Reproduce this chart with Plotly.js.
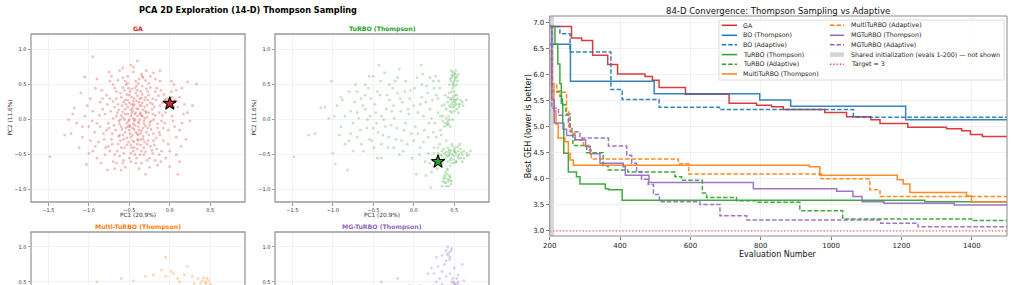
<!DOCTYPE html>
<html><head><meta charset="utf-8">
<script src="https://cdn.plot.ly/plotly-3.0.1.min.js"></script>
<style>html,body{margin:0;padding:0;background:#fff}#plot{width:1014px;height:285px}</style>
</head><body><div id="plot"></div>
<script>
// ---------- DATA ----------
const mainTitle = "PCA 2D Exploration (14-D) Thompson Sampling";
const panelTitles = ["GA", "TuRBO (Thompson)", "Multi-TuRBO (Thompson)", "MG-TuRBO (Thompson)"];
const pcXLabel = "PC1 (20.9%)";
const pcYLabel = "PC2 (11.6%)";

const gaPts = [
[-0.45,0.02],[-0.38,-0.05],[-0.52,0.08],[-0.30,0.12],[-0.60,-0.10],[-0.42,-0.18],[-0.35,0.20],[-0.55,0.15],[-0.25,-0.08],[-0.48,-0.25],
[-0.40,0.05],[-0.33,-0.12],[-0.58,0.03],[-0.47,0.22],[-0.28,0.04],[-0.65,0.10],[-0.50,-0.15],[-0.36,-0.28],[-0.44,0.30],[-0.22,0.15],
[-0.62,-0.22],[-0.31,0.28],[-0.53,-0.05],[-0.40,-0.35],[-0.70,0.02],[-0.20,-0.20],[-0.46,0.12],[-0.37,0.08],[-0.57,0.25],[-0.27,-0.30],
[-0.68,0.18],[-0.43,-0.08],[-0.34,0.36],[-0.51,-0.32],[-0.18,0.06],[-0.75,-0.12],[-0.39,-0.22],[-0.60,0.32],[-0.24,0.24],[-0.49,0.40],
[-0.15,-0.12],[-0.72,-0.28],[-0.32,-0.40],[-0.56,-0.40],[-0.12,0.20],[-0.80,0.08],[-0.45,-0.45],[-0.29,0.44],[-0.64,-0.35],[-0.10,-0.02],
[-0.82,-0.20],[-0.41,0.48],[-0.19,-0.36],[-0.66,0.40],[-0.05,0.10],[-0.86,0.25],[-0.37,-0.50],[-0.54,0.50],[-0.14,0.34],[-0.74,-0.45],
[-0.02,-0.15],[-0.90,-0.05],[-0.26,0.52],[-0.50,-0.55],[-0.08,-0.30],[-0.78,0.35],[-0.33,0.60],[-0.62,-0.52],[0.03,0.05],[-0.95,0.12],
[-0.16,0.45],[-0.70,0.50],[-0.42,-0.62],[-0.04,0.30],[-0.88,-0.32],[-0.21,-0.48],[0.06,-0.10],[-0.58,0.60],[-0.10,-0.45],[-1.00,-0.10],
[-0.35,0.65],[-0.80,-0.50],[0.02,0.40],[-0.28,-0.58],[-0.98,0.30],[0.10,0.18],[-0.66,-0.62],[-0.12,0.55],[-0.45,0.68],[0.08,-0.25],
[-1.05,0.05],[-0.24,0.62],[-0.55,-0.68],[0.12,0.32],[-0.92,0.45],[-0.05,-0.55],[-0.72,0.62],[0.15,-0.05],[-1.08,-0.25],[-0.38,-0.70],
[-1.48,-0.53],[-1.30,-0.22],[-1.22,-0.20],[-1.18,0.17],[-0.95,0.90],[-0.40,0.84],[0.33,0.51],[0.22,0.54],[-1.05,0.61],[-0.77,-0.72],
[-1.03,-0.64],[0.10,-0.78],[0.08,-0.50],[0.00,-0.67],[0.25,-0.02],[0.20,-0.28],[-1.12,-0.40],[-1.00,-0.48],[-0.20,0.67],[0.18,0.22],
[-0.85,-0.62],[-0.60,-0.72],[0.05,0.50],[-1.10,0.38],[-0.90,0.58],[-1.25,0.00],[0.14,-0.38],[-0.62,0.70],[-0.15,-0.65],[-0.30,-0.78],
[-0.44,-0.02],[-0.36,0.10],[-0.50,-0.08],[-0.41,0.16],[-0.32,-0.02],[-0.55,-0.18],[-0.46,-0.12],[-0.38,0.25],[-0.29,-0.18],[-0.60,0.06],
[-0.43,0.08],[-0.35,-0.16],[-0.52,0.18],[-0.40,-0.28],[-0.26,0.10],[-0.63,-0.02],[-0.47,0.32],[-0.33,-0.24],[-0.57,-0.28],[-0.23,-0.02],
[-0.48,0.05],[-0.39,-0.10],[-0.45,0.20],[-0.31,0.18],[-0.54,-0.12],[-0.42,0.38],[-0.36,-0.36],[-0.67,-0.15],[-0.21,0.30],[-0.59,0.20],
[-0.49,-0.20],[-0.27,-0.12],[-0.52,0.28],[-0.37,0.00],[-0.44,-0.40],[-0.70,0.26],[-0.17,-0.26],[-0.63,0.14],[-0.30,0.32],[-0.48,0.14],
[-0.34,0.05],[-0.58,-0.22],[-0.40,0.42],[-0.24,-0.38],[-0.76,-0.05],[-0.45,0.26],[-0.13,0.10],[-0.53,0.36],[-0.65,-0.45],[-0.31,-0.32],
[-0.56,0.00],[-0.39,0.15],[-0.46,-0.30],[-0.20,0.00],[-0.71,-0.35],[-0.34,0.48],[-0.27,0.40],[-0.61,-0.30],[-0.41,-0.55],[-0.83,0.15],
[-0.18,0.40],[-0.51,0.45],[-0.09,0.24],[-0.77,0.22],[-0.35,-0.45],[-0.55,0.55],[-0.13,-0.18],[-0.68,0.45],[-0.25,-0.55],[-0.86,-0.10],
[-0.06,-0.05],[-0.42,0.55],[-0.57,-0.48],[-0.93,-0.18],[-0.11,0.42],[-0.30,0.56],[-0.79,-0.40],[-0.02,0.22],[-0.48,-0.48],[-0.16,-0.42],
[-0.47,0.09],[-0.39,-0.03],[-0.33,0.14],[-0.51,-0.02],[-0.44,-0.14],[-0.58,0.11],[-0.36,-0.20],[-0.28,0.21],[-0.62,-0.06],[-0.41,0.27],
[-0.30,-0.09],[-0.54,0.22],[-0.46,-0.22],[-0.35,0.31],[-0.66,0.05],[-0.23,-0.14],[-0.50,0.35],[-0.40,-0.42],[-0.19,0.18],[-0.71,-0.20],
[-0.53,-0.36],[-0.26,0.35],[-0.61,0.38],[-0.32,-0.50],[-0.15,-0.06],[-0.74,0.30],[-0.43,0.45],[-0.57,-0.58],[-0.09,0.06],[-0.81,-0.28],
[-0.22,-0.44],[-0.38,0.58],[-0.68,-0.50],[-0.07,0.36],[-0.87,0.06],[-0.48,-0.60],[-0.13,-0.50],[-0.64,0.56],[-0.02,-0.35],[-0.92,-0.38],
[-0.29,0.70],[-0.52,0.62],[0.04,-0.02],[-0.96,-0.02],[-0.18,0.58],[-0.74,0.55],[0.07,0.28],[-0.35,-0.62],[-0.84,0.42],[-0.11,-0.60],
[0.12,-0.15],[-1.02,0.20],[-0.45,0.75],[-0.70,-0.60],[0.02,0.55],[-0.58,0.74],[-0.25,-0.68],[0.17,0.08],[-1.08,-0.10],[-0.90,-0.55],
[-0.37,0.20],[-0.45,-0.06],[-0.31,0.02],[-0.55,0.08],[-0.42,0.10],[-0.49,-0.10],[-0.38,-0.15],[-0.34,0.24],[-0.59,-0.14],[-0.26,-0.22],
[-0.50,0.24],[-0.44,-0.32],[-0.36,0.40],[-0.64,0.22],[-0.21,0.08],[-0.53,-0.26],[-0.40,0.34],[-0.69,-0.08],[-0.28,-0.35],[-0.47,0.44],
[-0.33,-0.28],[-0.56,0.42],[-0.17,0.28],[-0.73,0.12],[-0.43,-0.50],[-0.24,0.46],[-0.60,-0.40],[-0.12,-0.22],[-0.78,-0.15],[-0.39,0.52],
[-0.05,0.18],[-0.66,0.30],[-0.30,-0.46],[-0.83,0.30],[-0.20,-0.30],[-0.52,0.52],[-0.08,-0.12],[-0.76,-0.38],[-0.34,0.62],[-0.58,-0.62],
[-0.43,0.00],[-0.35,0.06],[-0.52,-0.10],[-0.40,-0.20],[-0.46,0.16],[-0.29,0.10],[-0.61,0.00],[-0.37,0.30],[-0.48,-0.36],[-0.25,-0.04],
[-0.55,0.28],[-0.32,-0.06],[-0.44,0.22],[-0.63,-0.24],[-0.21,0.22],[-0.50,0.00],[-0.39,-0.30],[-0.58,0.46],[-0.27,0.28],[-0.47,-0.40],
[0.08,0.42],[0.15,0.45],[0.12,-0.60],[-0.12,0.70],[-1.15,-0.05],[-0.98,-0.30],[0.05,0.18],[-0.68,-0.70],[-0.48,0.78],[0.22,0.10],
[0.28,0.20],[0.05,0.27],[-0.03,0.20],[-0.06,0.28],[0.03,0.32],[-0.18,-0.58],[-1.20,0.08],[-0.95,-0.45],[0.00,-0.45],[-0.75,0.68]
];
const gaBest = [0.00, 0.23];

const turboPts = [
[-1.48,-0.53],[-1.30,-0.22],[-1.22,-0.20],[-1.15,0.17],[-1.10,0.18],[-1.05,0.02],[-1.02,0.55],[-1.00,-0.48],[-0.98,0.05],[-0.97,-0.63],
[-0.90,-0.10],[-0.88,0.28],[-0.85,-0.35],[-0.82,-0.72],[-0.80,0.40],[-0.78,0.12],[-0.75,-0.05],[-0.72,0.50],[-0.70,-0.25],[-0.68,0.02],
[-0.65,0.30],[-0.62,-0.45],[-0.60,0.15],[-0.58,-0.12],[-0.56,0.45],[-0.54,0.05],[-0.52,-0.30],[-0.50,0.62],[-0.48,0.22],[-0.46,-0.05],
[-0.45,-0.55],[-0.43,0.78],[-0.42,0.35],[-0.40,0.05],[-0.38,-0.22],[-0.36,0.67],[-0.34,0.15],[-0.32,-0.40],[-0.30,0.28],[-0.28,-0.08],
[-0.26,0.45],[-0.24,0.02],[-0.22,-0.28],[-0.20,0.38],[-0.18,-0.50],[-0.16,0.12],[-0.14,0.25],[-0.12,-0.15],[-0.10,0.55],[-0.08,-0.35],
[-0.06,0.08],[-0.04,0.42],[-0.02,-0.55],[0.00,0.20],[0.02,-0.10],[0.04,0.60],[0.09,0.78],[0.08,-0.40],[0.10,0.32],[0.12,0.05],
[0.14,-0.60],[0.16,0.48],[0.18,-0.25],[0.20,0.15],[0.22,-0.75],[0.24,0.55],[0.26,-0.05],[0.28,0.35],[0.21,-0.97],[0.03,-0.78],
[-0.55,-0.28],[-0.63,0.20],[-0.35,-0.10],[-0.20,0.60],[-0.70,0.10],[-0.45,0.40],[-0.15,-0.30],[-0.85,0.05],[-0.25,0.20],[-0.05,0.30],
[0.05,-0.20],[0.15,0.25],[0.25,-0.40],[-0.40,-0.35],[-0.60,0.35],[-0.30,0.50],[0.10,0.50],[0.20,0.60],[-0.10,-0.05],[0.00,-0.30],
[0.18,-0.48],[0.22,0.02],[0.28,-0.25],[0.12,-0.32],[-0.75,-0.45],[-0.50,-0.12],[0.30,0.10],[0.33,-0.15],[0.32,0.45],[0.35,0.20],
[-0.95,0.20],[-0.92,-0.22],[-0.78,-0.20],[-0.73,0.25],[-0.66,-0.15],[-0.60,0.50],[-0.57,0.00],[-0.53,0.30],[-0.49,-0.40],[-0.47,0.10],
[-0.44,-0.18],[-0.41,0.55],[-0.37,0.00],[-0.33,0.35],[-0.31,-0.25],[-0.27,0.12],[-0.23,0.55],[-0.21,-0.12],[-0.17,0.30],[-0.13,-0.45],
[-0.11,0.40],[-0.07,0.15],[-0.03,-0.20],[0.01,0.45],[0.05,0.10],[0.07,-0.50],[0.11,0.65],[0.13,-0.15],[0.17,0.38],[0.19,-0.05],
[0.23,0.28],[0.27,0.62],[0.29,-0.70],[0.31,0.55],[0.33,0.05],[0.34,-0.22],[0.25,0.45],[0.15,-0.80],[0.20,-0.62],[-0.55,0.62],
[-0.40,-0.55],[-0.70,0.40],[-0.90,0.32],[-0.18,0.72],[-0.80,-0.30],[0.08,0.22],[0.24,-0.18],[0.30,0.30],[-0.25,-0.40],[-0.65,-0.35],
[0.48,0.68],[0.50,0.65],[0.52,0.70],[0.47,0.60],[0.51,0.58],[0.49,0.52],[0.53,0.62],[0.46,0.55],[0.50,0.48],[0.44,0.50],[0.54,0.55],[0.48,0.45],
[0.49,0.62],[0.51,0.66],[0.47,0.64],[0.50,0.55],[0.52,0.60],[0.45,0.58],[0.53,0.50],[0.48,0.50],[0.55,0.65],[0.46,0.70],
[0.45,0.30],[0.48,0.25],[0.52,0.28],[0.50,0.20],[0.46,0.18],[0.55,0.22],[0.42,0.25],[0.49,0.33],[0.53,0.15],[0.47,0.10],
[0.58,0.28],[0.44,0.38],[0.51,0.35],[0.40,0.15],[0.56,0.18],[0.50,0.12],[0.61,0.20],[0.43,0.05],[0.39,0.35],[0.47,0.40],
[0.47,0.22],[0.50,0.28],[0.44,0.20],[0.52,0.22],[0.49,0.18],[0.54,0.30],[0.46,0.28],[0.51,0.25],[0.48,0.30],[0.57,0.22],
[0.45,0.12],[0.53,0.35],[0.60,0.25],[0.42,0.32],[0.50,0.40],[0.65,0.28],[0.38,0.22],[0.55,0.10],
[0.42,-0.05],[0.41,-0.08],[0.44,0.00],[0.38,-0.10],[0.40,0.02],[0.36,-0.02],[0.42,-0.02],[0.43,-0.07],[0.39,-0.05],[0.45,-0.10],[0.36,0.05],[0.48,0.00],
[0.35,-0.45],[0.40,-0.50],[0.45,-0.48],[0.50,-0.52],[0.55,-0.45],[0.60,-0.50],[0.42,-0.40],[0.48,-0.38],[0.38,-0.55],[0.52,-0.60],
[0.58,-0.42],[0.62,-0.55],[0.45,-0.58],[0.33,-0.50],[0.30,-0.40],[0.28,-0.55],[0.65,-0.48],[0.70,-0.45],[0.50,-0.45],[0.43,-0.52],
[0.55,-0.55],[0.47,-0.62],[0.36,-0.62],[0.57,-0.35],[0.40,-0.30],[0.32,-0.35],[0.25,-0.48],[0.60,-0.60],[0.52,-0.40],[0.46,-0.44],
[0.44,-0.50],[0.48,-0.50],[0.52,-0.48],[0.40,-0.46],[0.46,-0.55],[0.54,-0.52],[0.42,-0.60],[0.50,-0.42],[0.56,-0.50],[0.38,-0.48],
[0.58,-0.55],[0.35,-0.52],[0.62,-0.45],[0.47,-0.35],[0.53,-0.60],[0.44,-0.43],[0.32,-0.58],[0.66,-0.52],[0.41,-0.53],[0.49,-0.57],
[0.37,-0.42],[0.59,-0.47],[0.55,-0.38],[0.30,-0.48],[0.45,-0.66],[0.51,-0.46],[0.43,-0.46],[0.68,-0.50],[0.34,-0.65],[0.50,-0.62],
[0.38,-0.80],[0.42,-0.85],[0.40,-0.90],[0.45,-0.82],[0.36,-0.88],[0.43,-0.95],[0.39,-0.75],[0.47,-0.88],[0.35,-0.95],[0.41,-0.70],
[0.39,-0.83],[0.43,-0.88],[0.41,-0.78],[0.46,-0.92],[0.37,-0.84],[0.44,-0.80],[0.40,-0.95],[0.38,-0.90],[0.42,-0.72],[0.45,-0.86]
];
const turboBest = [0.30, -0.60];

const multiPts = [
[-0.60,0.55],[-0.30,0.58],[-0.20,0.60],[-0.10,0.67],[-0.05,0.58],[-0.05,0.85],[0.02,0.65],[0.05,0.62],[0.10,0.55],[0.18,0.60],
[0.22,0.72],[0.28,0.58],[0.35,0.55],[0.40,0.52],[0.42,0.56],[0.44,0.50],[0.46,0.55],[0.48,0.52],[0.45,0.48],[0.38,0.48],
[-0.45,0.52],[0.12,0.50],[-0.90,0.50],[0.30,0.48],[0.50,0.47]
];

const mgPts = [
[0.15,0.42],[0.25,0.45],[0.25,0.62],[0.30,0.72],[0.35,0.65],[0.35,0.88],[0.40,0.95],[0.42,1.00],[0.44,0.92],[0.45,0.85],
[0.40,0.80],[0.47,0.98],[0.43,0.88],[0.38,0.75],[0.50,0.70],[0.55,0.60],[0.48,0.55],[0.50,0.48],[0.52,0.45],[0.55,0.50],
[0.46,0.45],[0.58,0.45],[0.60,0.42],[0.45,0.62],[0.32,0.55],[0.28,0.50],[-0.05,0.45],[-0.20,0.55],[0.60,0.75],[0.28,0.85],
[0.22,0.70],[0.53,0.55],[0.49,0.50],[0.41,0.90],[0.46,0.95],[0.44,0.82],[0.51,0.47],[0.54,0.48],[0.47,0.50],[0.18,0.62],
[0.08,0.45],[-0.40,0.50],[0.35,0.47],[0.62,0.52],[0.40,0.58]
];

const convTitle = "84-D Convergence: Thompson Sampling vs Adaptive";
const convXLabel = "Evaluation Number";
const convYLabel = "Best GEH (lower is better)";
const initSpan = [200, 212];
const targetValue = 3;

const gaX = [200,262,291,322,365,393,471,492,511,586,710,788,831,864,982,1044,1113,1139,1218,1328,1371,1396,1430,1500];
const gaY = [6.92,6.70,6.65,6.37,6.19,6.01,5.96,5.89,5.75,5.62,5.45,5.41,5.38,5.33,5.27,5.19,5.13,5.06,4.99,4.96,4.92,4.85,4.81,4.81];
const boTX = [200,259,497,797,885,1212,1500];
const boTY = [6.58,5.87,5.63,5.51,5.39,5.13,5.13];
const boAX = [200,229,258,374,406,511,682,1063,1500];
const boAY = [6.92,6.78,6.43,5.71,5.52,5.37,5.33,5.18,5.18];
const tuTX = [200,215,223,229,233,237,240,253,276,286,358,367,406,1266,1500];
const tuTY = [6.92,6.58,6.20,5.82,5.45,5.06,4.49,4.13,4.04,3.90,3.81,3.79,3.59,3.56,3.56];
const tuAX = [200,206,229,236,246,258,263,266,305,352,366,422,556,575,634,646,731,788,911,1033,1404,1500];
const tuAY = [6.92,5.68,5.58,5.42,5.24,5.00,4.87,4.64,4.50,4.25,4.17,4.13,4.04,3.97,3.73,3.64,3.58,3.55,3.39,3.23,3.20,3.20];
const muTX = [200,205,212,218,224,243,253,258,267,938,968,1188,1205,1224,1385,1399,1500];
const muTY = [6.45,5.80,5.30,5.05,4.78,4.71,4.49,4.36,4.26,4.23,4.07,3.98,3.90,3.74,3.67,3.56,3.56];
const muAX = [200,207,220,248,254,262,272,296,312,318,566,595,972,1110,1139,1500];
const muAY = [6.30,5.82,5.66,5.29,5.00,4.87,4.74,4.64,4.55,4.38,4.29,4.09,4.00,3.79,3.66,3.66];
const mgTX = [200,206,213,238,248,272,302,315,343,409,415,482,779,1016,1062,1088,1150,1350,1500];
const mgTY = [6.92,5.51,5.07,4.95,4.83,4.75,4.62,4.48,4.30,4.23,4.07,3.93,3.81,3.76,3.66,3.56,3.53,3.50,3.50];
const mgAX = [200,206,225,253,258,286,367,419,433,447,461,480,495,512,627,684,760,1141,1247,1500];
const mgAY = [6.92,5.35,5.22,5.08,4.90,4.78,4.63,4.45,4.30,4.14,3.99,3.89,3.70,3.56,3.51,3.29,3.21,3.15,3.08,3.08];

const seriesNames = ["GA","BO (Thompson)","BO (Adaptive)","TuRBO (Thompson)","TuRBO (Adaptive)",
  "MultiTuRBO (Thompson)","MultiTuRBO (Adaptive)","MGTuRBO (Thompson)","MGTuRBO (Adaptive)"];
const spanLabel = "Shared initialization (evals 1-200) \u2014 not shown";
const targetLabel = "Target = 3";

// ---------- STYLE / LAYOUT ----------
const W = 1014, H = 285;
const PX = p => p / W, PY = p => 1 - p / H;
const FONT = "DejaVu Sans";
const C = {red:"#d62728", blue:"#1f77b4", green:"#2ca02c", orange:"#ff7f0e", purple:"#9467bd"};
const rgba = (hex, a) => {
  const n = parseInt(hex.slice(1), 16);
  return `rgba(${n>>16&255},${n>>8&255},${n&255},${a})`;
};

const seriesData = [[gaX,gaY],[boTX,boTY],[boAX,boAY],[tuTX,tuTY],[tuAX,tuAY],[muTX,muTY],[muAX,muAY],[mgTX,mgTY],[mgAX,mgAY]];
const seriesColor = [C.red,C.blue,C.blue,C.green,C.green,C.orange,C.orange,C.purple,C.purple];
const DASH = "4.5px,2px";
const seriesDash = ["solid","solid",DASH,"solid",DASH,"solid",DASH,"solid",DASH];

const traces = [];
function cloud(pts, color, xa, ya, alpha) {
  traces.push({type:"scatter", mode:"markers", x:pts.map(p=>p[0]), y:pts.map(p=>p[1]),
    xaxis:xa, yaxis:ya, hoverinfo:"skip", showlegend:false,
    marker:{size:2.8, color:rgba(color, alpha), line:{width:0}}});
}
function star(pt, color, xa, ya) {
  traces.push({type:"scatter", mode:"markers", x:[pt[0]], y:[pt[1]], xaxis:xa, yaxis:ya,
    showlegend:false, hoverinfo:"skip",
    marker:{symbol:"star", size:10, color:color, line:{color:"#000", width:1.1}}});
}
cloud(gaPts, C.red, "x", "y", 0.3);
star(gaBest, C.red, "x", "y");
cloud(turboPts, C.green, "x2", "y2", 0.28);
star(turboBest, C.green, "x2", "y2");
cloud(multiPts, C.orange, "x3", "y3", 0.32);
cloud(mgPts, C.purple, "x4", "y4", 0.3);

seriesData.forEach((d, i) => {
  traces.push({type:"scatter", mode:"lines", x:d[0], y:d[1], xaxis:"x5", yaxis:"y5",
    name:seriesNames[i], showlegend:false, hoverinfo:"skip", opacity:0.9,
    line:{shape:"hv", color:seriesColor[i], width:1.5, dash:seriesDash[i]}});
});
traces.push({type:"scatter", mode:"lines", x:[200,1500], y:[targetValue,targetValue], xaxis:"x5", yaxis:"y5",
  showlegend:false, hoverinfo:"skip", line:{color:"#ff3b3b", width:1.1, dash:"1.3px,2px"}});

// panel geometry (pixels)
const panels = [
  {x0:31, x1:245, y0:34, y1:202, yr:[-1.176,1.224]},
  {x0:275, x1:489, y0:34, y1:202, yr:[-1.176,1.224]},
  {x0:31, x1:245, y0:232, y1:285, yr:[0.457,1.214]},
  {x0:275, x1:489, y0:232, y1:285, yr:[0.457,1.214]}
];
const titleColors = [C.red, C.green, C.orange, C.purple];

const layout = {
  width:W, height:H, margin:{l:0,r:0,t:0,b:0}, paper_bgcolor:"#fff", plot_bgcolor:"rgba(0,0,0,0)",
  showlegend:false, font:{family:FONT, color:"#222"}, shapes:[], annotations:[]
};

panels.forEach((p, i) => {
  const k = i === 0 ? "" : String(i+1);
  layout["xaxis"+k] = {domain:[PX(p.x0), PX(p.x1)], range:[-1.715, 0.93], anchor:"y"+k,
    tick0:0, dtick:0.5, tickformat:".1f", showgrid:true, gridcolor:"#ebebeb", gridwidth:0.6,
    zeroline:false, showline:false, ticks:"outside", ticklen:2.5, tickwidth:0.6, tickcolor:"#555",
    tickfont:{size:5, color:"#333", family:FONT}, showticklabels:i<2, fixedrange:true};
  layout["yaxis"+k] = {domain:[PY(p.y1), PY(p.y0)], range:p.yr, anchor:"x"+k,
    tick0:0, dtick:0.5, tickformat:".1f", showgrid:true, gridcolor:"#ebebeb", gridwidth:0.6,
    zeroline:false, showline:false, ticks:"outside", ticklen:2.5, tickwidth:0.6, tickcolor:"#555",
    tickfont:{size:5, color:"#333", family:FONT}, fixedrange:true};
  layout.shapes.push({type:"rect", xref:"paper", yref:"paper", x0:PX(p.x0), x1:PX(p.x1),
    y0:i<2 ? PY(p.y1) : -0.6, y1:PY(p.y0), line:{color:"#9a9a9a", width:1.3}, fillcolor:"rgba(0,0,0,0)"});
  layout.annotations.push({xref:"paper", yref:"paper", x:PX((p.x0+p.x1)/2), y:PY(p.y0-5),
    text:"<b>"+panelTitles[i]+"</b>", showarrow:false, xanchor:"center", yanchor:"middle",
    font:{size:6.2, color:titleColors[i], family:FONT}});
  if (i < 2) {
    layout.annotations.push({xref:"paper", yref:"paper", x:PX((p.x0+p.x1)/2), y:PY(215),
      text:pcXLabel, showarrow:false, xanchor:"center", yanchor:"middle", font:{size:5.8, color:"#333"}});
    layout.annotations.push({xref:"paper", yref:"paper", x:PX(p.x0-21.5), y:PY(118),
      text:pcYLabel, textangle:-90, showarrow:false, xanchor:"center", yanchor:"middle", font:{size:5.8, color:"#333"}});
  }
});
layout.annotations.push({xref:"paper", yref:"paper", x:PX(248), y:PY(10), text:"<b>"+mainTitle+"</b>",
  showarrow:false, xanchor:"center", yanchor:"middle", font:{size:8.2, color:"#000"}});

// convergence plot
const cv = {x0:549.7, x1:1007, y0:16, y1:236};
layout.xaxis5 = {domain:[PX(cv.x0), PX(cv.x1)], range:[200,1500], anchor:"y5", tick0:200, dtick:200,
  showgrid:true, gridcolor:"#ebebeb", gridwidth:0.7, zeroline:false, showline:false,
  ticks:"outside", ticklen:2.5, tickwidth:0.7, tickcolor:"#444", tickfont:{size:7, color:"#222"}, fixedrange:true};
layout.yaxis5 = {domain:[PY(cv.y1), PY(cv.y0)], range:[2.904,7.12], anchor:"x5", tick0:3, dtick:0.5, tickformat:".1f",
  showgrid:true, gridcolor:"#ebebeb", gridwidth:0.7, zeroline:false, showline:false,
  ticks:"outside", ticklen:3, tickwidth:0.7, tickcolor:"#444", tickfont:{size:7, color:"#222"}, fixedrange:true};
layout.shapes.push({type:"rect", xref:"x5", yref:"y5 domain", x0:initSpan[0], x1:initSpan[1], y0:0, y1:1,
  fillcolor:"#d6d6d6", line:{width:0}, layer:"below"});
layout.shapes.push({type:"rect", xref:"paper", yref:"paper", x0:PX(cv.x0), x1:PX(cv.x1), y0:PY(cv.y1), y1:PY(cv.y0),
  line:{color:"#8a8a8a", width:1}, fillcolor:"rgba(0,0,0,0)"});
layout.annotations.push({xref:"paper", yref:"paper", x:PX(778), y:PY(10.7), text:convTitle, showarrow:false,
  xanchor:"center", yanchor:"middle", font:{size:8.5, color:"#111"}});
layout.annotations.push({xref:"paper", yref:"paper", x:PX(778), y:PY(254), text:convXLabel, showarrow:false,
  xanchor:"center", yanchor:"middle", font:{size:8, color:"#111"}});
layout.annotations.push({xref:"paper", yref:"paper", x:PX(528.3), y:PY(126), text:convYLabel, textangle:-90, showarrow:false,
  xanchor:"center", yanchor:"middle", font:{size:8, color:"#111"}});

// legend (drawn manually, 2 columns)
layout.shapes.push({type:"rect", xref:"paper", yref:"paper", x0:PX(719), x1:PX(1004), y0:PY(80), y1:PY(20),
  fillcolor:"rgba(255,255,255,0.85)", line:{color:"#d4d4d4", width:0.8}});
const rowY = [25.3, 35.3, 44.7, 54.6, 64.3, 74];
const legendItems = seriesNames.map((n,i)=>({label:n, color:seriesColor[i], dash:seriesDash[i], kind:"line"}));
legendItems.push({label:spanLabel, kind:"patch"});
legendItems.push({label:targetLabel, color:"#ff3b3b", dash:"1.3px,2px", kind:"line"});
legendItems.forEach((it, i) => {
  const col = i < 6 ? 0 : 1, row = i < 6 ? i : i - 6;
  const lx0 = col ? 830 : 721.7, lx1 = col ? 844 : 737, tx = col ? 849 : 740.7, y = rowY[row];
  if (it.kind === "patch") {
    layout.shapes.push({type:"rect", xref:"paper", yref:"paper", x0:PX(lx0), x1:PX(lx1), y0:PY(y+2.3), y1:PY(y-2.3),
      fillcolor:"#d6d6d6", line:{width:0}});
  } else {
    layout.shapes.push({type:"line", xref:"paper", yref:"paper", x0:PX(lx0), x1:PX(lx1), y0:PY(y), y1:PY(y),
      line:{color:it.color, width:1.5, dash:it.dash}});
  }
  layout.annotations.push({xref:"paper", yref:"paper", x:PX(tx), y:PY(y), text:it.label, showarrow:false,
    xanchor:"left", yanchor:"middle", font:{size:6.3, color:"#222"}});
});

Plotly.newPlot("plot", traces, layout, {displayModeBar:false, staticPlot:true});
</script></body></html>
